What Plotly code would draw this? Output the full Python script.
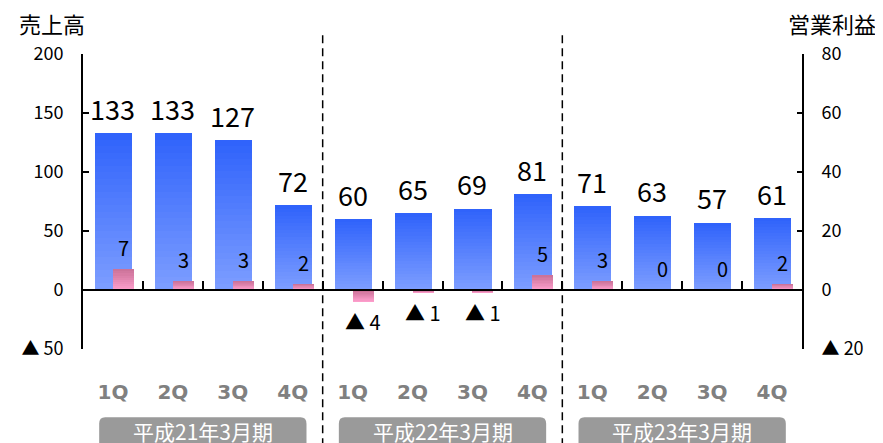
import plotly.graph_objects as go

# ---- data ----
quarters = ["1Q", "2Q", "3Q", "4Q"] * 3
periods = ["平成21年3月期", "平成22年3月期", "平成23年3月期"]
sales = [133, 133, 127, 72, 60, 65, 69, 81, 71, 63, 57, 61]
op_profit = [7, 3, 3, 2, -4, -1, -1, 5, 3, 0, 0, 2]
left_ticks = [-50, 0, 50, 100, 150, 200]
left_ticktext = ["▲ 50", "0", "50", "100", "150", "200"]
right_ticks = [-20, 0, 20, 40, 60, 80]
right_ticktext = ["▲ 20", "0", "20", "40", "60", "80"]

idx = list(range(len(sales)))
FONT = "Noto Sans CJK JP"


def lerp(c1, c2, t):
    a = [int(c1[i:i + 2], 16) for i in (1, 3, 5)]
    b = [int(c2[i:i + 2], 16) for i in (1, 3, 5)]
    return "#" + "".join(f"{round(a[j] + (b[j] - a[j]) * t):02x}" for j in range(3))


fig = go.Figure()

# blue sales bars, vertical gradient made of stacked overlay layers
NB = 24
blue_top, blue_bot = "#3063fb", "#7c9dff"
for k in range(NB):
    f = 1 - k / NB
    fig.add_trace(go.Bar(
        x=idx, y=[v * f for v in sales], width=0.62, offset=-0.3,
        marker=dict(color=lerp(blue_top, blue_bot, k / (NB - 1)), line=dict(width=0)),
        xaxis="x", yaxis="y", showlegend=False, hoverinfo="skip"))

# pink operating-profit bars
NP = 10
pink_top, pink_bot = "#cc7399", "#fc9dcb"
for k in range(NP):
    f = 1 - k / NP
    cols = []
    for v in op_profit:
        t = k / (NP - 1)
        cols.append(lerp(pink_top, pink_bot, t if v >= 0 else 1 - t))
    fig.add_trace(go.Bar(
        x=idx, y=[v * f for v in op_profit], width=0.35, offset=0.0,
        marker=dict(color=cols, line=dict(width=0)),
        xaxis="x2", yaxis="y2", showlegend=False, hoverinfo="skip"))

annotations = []
for i, v in zip(idx, sales):
    annotations.append(dict(x=i, y=v, xref="x", yref="y", text=str(v), showarrow=False,
                            yanchor="middle", yshift=25,
                            font=dict(family=FONT, size=27, color="black")))
for i, v in zip(idx, op_profit):
    txt = str(v) if v >= 0 else f"▲ {abs(v)}"
    annotations.append(dict(x=i + 0.175, y=v, xref="x2", yref="y2", text=txt, showarrow=False,
                            yanchor="middle", yshift=22 if v >= 0 else -20,
                            font=dict(family=FONT, size=20, color="black")))

# axis titles
annotations.append(dict(x=-0.092, y=1.104, xref="paper", yref="paper", text="売上高",
                        showarrow=False, xanchor="left", yanchor="middle",
                        font=dict(family=FONT, size=22, color="black")))
annotations.append(dict(x=1.106, y=1.104, xref="paper", yref="paper", text="営業利益",
                        showarrow=False, xanchor="right", yanchor="middle",
                        font=dict(family=FONT, size=22, color="black")))

shapes = []
# period separators
for g in range(1, len(periods)):
    xb = g * 4 - 0.5
    shapes.append(dict(type="line", xref="x", yref="paper", x0=xb, x1=xb, y0=-0.33, y1=1.08,
                       line=dict(color="black", width=1.5, dash="8px,5px")))

# period label boxes (rounded top corners)
yt, yb = -0.231, -0.36
rx, ry = 0.1, 0.022
for g, name in enumerate(periods):
    c = g * 4 + 1.5
    x0, x1 = c - 1.73, c + 1.73
    path = (f"M {x0},{yb} L {x0},{yt - ry} Q {x0},{yt} {x0 + rx},{yt} "
            f"L {x1 - rx},{yt} Q {x1},{yt} {x1},{yt - ry} L {x1},{yb} Z")
    shapes.append(dict(type="path", xref="x", yref="paper", path=path,
                       fillcolor="#9a9a9a", line=dict(width=0)))
    annotations.append(dict(x=c, y=-0.279, xref="x", yref="paper", text=name, showarrow=False,
                            yanchor="middle", font=dict(family=FONT, size=21, color="white")))

# the page adds an 8px body margin, so the figure is 8px smaller with 8px less left/top margin
fig.update_layout(
    width=875, height=435, autosize=False,
    margin=dict(l=75, r=81, t=46, b=94, pad=0),
    plot_bgcolor="white", paper_bgcolor="white",
    barmode="overlay", bargap=0,
    showlegend=False,
    xaxis=dict(range=[-0.5, 11.5], tickvals=idx, ticktext=quarters, showline=False,
               showgrid=False, zeroline=False, ticks="", ticklabelstandoff=29, automargin=False,
               tickfont=dict(family="DejaVu Sans", size=20, color="#808080", weight="bold")),
    xaxis2=dict(range=[-0.5, 11.5], overlaying="x", anchor="free", position=0.2,
                tickvals=[i + 0.5 for i in idx[:-1]], ticks="inside", ticklen=8, tickwidth=2,
                tickcolor="black", showticklabels=False, showline=True, linecolor="black",
                linewidth=2, showgrid=False, zeroline=False, automargin=False),
    yaxis=dict(range=[-50, 200], tickvals=left_ticks, ticktext=left_ticktext,
               showline=True, linecolor="black", linewidth=2, ticks="inside", ticklen=6,
               tickwidth=2, tickcolor="black", showgrid=False, zeroline=False, automargin=False,
               ticklabelstandoff=14, tickfont=dict(family=FONT, size=18, color="black")),
    yaxis2=dict(range=[-20, 80], tickvals=right_ticks, ticktext=right_ticktext,
                overlaying="y", side="right", anchor="x", automargin=False,
                showline=True, linecolor="black", linewidth=2, ticks="inside", ticklen=5,
                tickwidth=2, tickcolor="black", showgrid=False, zeroline=False,
                ticklabelstandoff=14, tickfont=dict(family=FONT, size=18, color="black")),
    annotations=annotations,
    shapes=shapes,
)

fig.write_html("out.html")
